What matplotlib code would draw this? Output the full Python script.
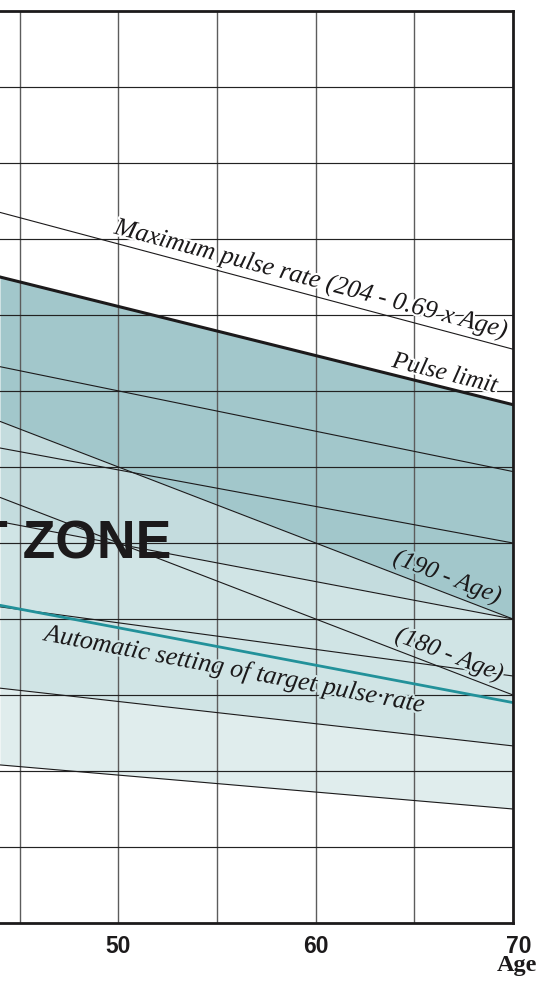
import numpy as np
import matplotlib
matplotlib.use('Agg')
import matplotlib.pyplot as plt
import matplotlib.patheffects as pe
from matplotlib.transforms import ScaledTranslation

# ages at the left and right edge of the visible part of the chart
ages = [44, 70]

# pulse rates (beats/min) at age 44 and age 70
max_pulse = [173.5, 155.5]      # 204 - 0.69 x Age
pulse_limit = [165.0, 148.2]
line_a = [153.2, 139.4]
age_190 = [146.0, 120.0]
line_b = [142.5, 130.0]
age_180 = [136.0, 110.0]
line_c = [132.8, 120.0]
line_d = [121.6, 112.5]
target_auto = [121.8, 109.0]    # automatic target pulse rate
line_e = [110.9, 103.3]
line_f = [100.8, 95.0]

x_ticks = [50, 60, 70]
x_grid = [45, 50, 55, 60, 65]
y_grid = [90, 100, 110, 120, 130, 140, 150, 160, 170, 180, 190]

ink = '#1c1a1b'
dark = '#a2c7cb'
zone2 = '#c4dcde'
zone3 = '#d0e4e5'
zone4 = '#e0eded'
teal = '#22919a'

fig = plt.figure(figsize=(5.39, 9.81), dpi=100)
ax = fig.add_axes([0, 58 / 981, 513 / 539, 912 / 981])
ax.set_xlim(44, 70)
ax.set_ylim(80, 200)

# shaded zones
ax.fill_between(ages, pulse_limit, age_190, color=dark, lw=0, zorder=0)
ax.fill_between(ages, age_190, line_c, color=zone2, lw=0, zorder=0)
ax.fill_between(ages, line_c, line_e, color=zone3, lw=0, zorder=0)
ax.fill_between(ages, line_e, line_f, color=zone4, lw=0, zorder=0)

# grid
for a in x_grid:
    ax.axvline(a, color='#5c5c5c', lw=1.0, zorder=1)
for v in y_grid:
    ax.axhline(v, color='#222222', lw=0.85, zorder=1)

# thin reference lines
for vals in [max_pulse, line_a, age_190, line_b, age_180, line_c, line_d, line_e, line_f]:
    ax.plot(ages, vals, color=ink, lw=0.8, zorder=2)
ax.plot(ages, pulse_limit, color=ink, lw=2.2, zorder=3)
ax.plot(ages, target_auto, color=teal, lw=2.0, zorder=3)


def line_label(x, y, text, ref, bg, size=18):
    p0 = ax.transData.transform((ages[0], ref[0]))
    p1 = ax.transData.transform((ages[1], ref[1]))
    ang = np.degrees(np.arctan2(p1[1] - p0[1], p1[0] - p0[0]))
    ax.text(x, y, text, rotation=ang, rotation_mode='anchor', ha='left', va='baseline',
            fontsize=size, fontstyle='italic', family='Liberation Serif', color=ink, zorder=4,
            path_effects=[pe.withStroke(linewidth=3, foreground=bg)])


line_label(49.74, 170.75, 'Maximum pulse rate (204 - 0.69 x Age)', max_pulse, 'white', 18.6)
line_label(63.82, 153.2, 'Pulse limit', pulse_limit, 'white')
line_label(63.87, 127.4, '(190 - Age)', age_190, dark)
line_label(63.97, 117.2, '(180 - Age)', age_180, zone3)
line_label(46.2, 117.2, 'Automatic setting of target pulse\u00b7rate', target_auto, zone3, 18.7)

ax.text(52.70, 128.0, 'T ZONE', ha='right', va='baseline', fontsize=38.5, fontweight='bold',
        family='Liberation Sans', color=ink, zorder=4, clip_on=True)

# axes frame and ticks
ax.spines['left'].set_visible(False)
for s in ['top', 'right', 'bottom']:
    ax.spines[s].set_linewidth(2.0)
    ax.spines[s].set_color(ink)
    ax.spines[s].set_zorder(5)

ax.set_yticks([])
ax.set_xticks(x_ticks)
ax.set_xticklabels([str(t) for t in x_ticks], fontsize=16.5, fontweight='bold',
                   family='Liberation Sans', color=ink)
ax.tick_params(axis='x', length=0, pad=8.5)
last = ax.get_xticklabels()[-1]
last.set_transform(last.get_transform() + ScaledTranslation(6 / 100, 0, fig.dpi_scale_trans))

fig.text(537 / 539, 1 - 971 / 981, 'Age', ha='right', va='baseline', fontsize=17.5,
         fontweight='bold', family='Liberation Serif', color=ink)

fig.savefig('out.png', dpi=100)
